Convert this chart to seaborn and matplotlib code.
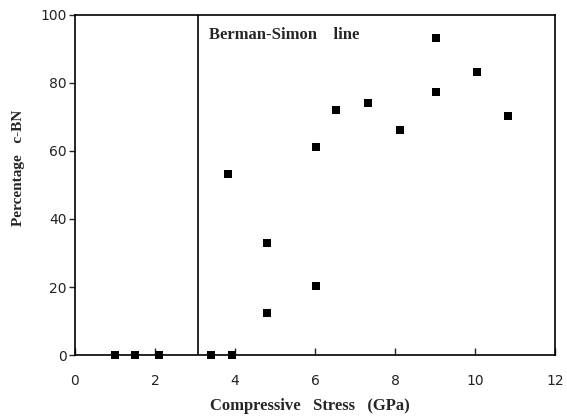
import matplotlib
matplotlib.use("Agg")
import matplotlib.pyplot as plt
import seaborn as sns
import pandas as pd

stress = [1.0, 1.5, 2.1, 3.4, 3.93, 3.82, 4.8, 4.8, 6.02, 6.02, 6.53, 7.33, 8.12, 9.02, 9.02, 10.04, 10.83]
pct_cbn = [0, 0, 0, 0, 0, 53.1, 33.0, 12.3, 20.4, 61.2, 72.1, 74.1, 66.3, 93.3, 77.3, 83.3, 70.4]
x_ticks = [0, 2, 4, 6, 8, 10, 12]
y_ticks = [0, 20, 40, 60, 80, 100]
berman_simon_x = 3.08

sns.set_theme(style="white")
plt.rcParams["font.family"] = ["DejaVu Sans"]

fig = plt.figure(figsize=(5.67, 4.16), dpi=100)
ax = fig.add_axes([0.132, 0.1466, 0.847, 0.8174])

df = pd.DataFrame({"stress": stress, "pct": pct_cbn})
sns.scatterplot(data=df, x="stress", y="pct", marker="s", s=28, color="black",
                edgecolor="black", linewidth=0, ax=ax, clip_on=False, zorder=3)

ax.axvline(berman_simon_x, color="black", linewidth=1.2)
ax.text(berman_simon_x + 0.27, 94, "Berman-Simon    line", fontfamily="Liberation Serif",
        fontweight="bold", fontsize=12, va="center", ha="left")

ax.set_xlim(0, 12)
ax.set_ylim(0, 100)
ax.set_xticks(x_ticks)
ax.set_yticks(y_ticks)
ax.set_xticklabels([str(t) for t in x_ticks], fontsize=10, color="#222222")
ax.set_yticklabels([str(t) for t in y_ticks], fontsize=10, color="#222222")
ax.tick_params(axis="x", direction="in", length=5, width=1, pad=14, bottom=True)
ax.tick_params(axis="y", direction="out", length=4, width=1, pad=2, left=True)

for s in ax.spines.values():
    s.set_color("black")
    s.set_linewidth(1.2)
    s.set_visible(True)

ax.set_xlabel("Compressive   Stress   (GPa)", fontfamily="Liberation Serif",
              fontweight="bold", fontsize=12)
ax.xaxis.set_label_coords(0.49, -0.125)
ax.set_ylabel("Percentage   c-BN", fontfamily="Liberation Serif",
              fontweight="bold", fontsize=11)
ax.yaxis.set_label_coords(-0.104, 0.55)

fig.savefig("out.png", dpi=100)
